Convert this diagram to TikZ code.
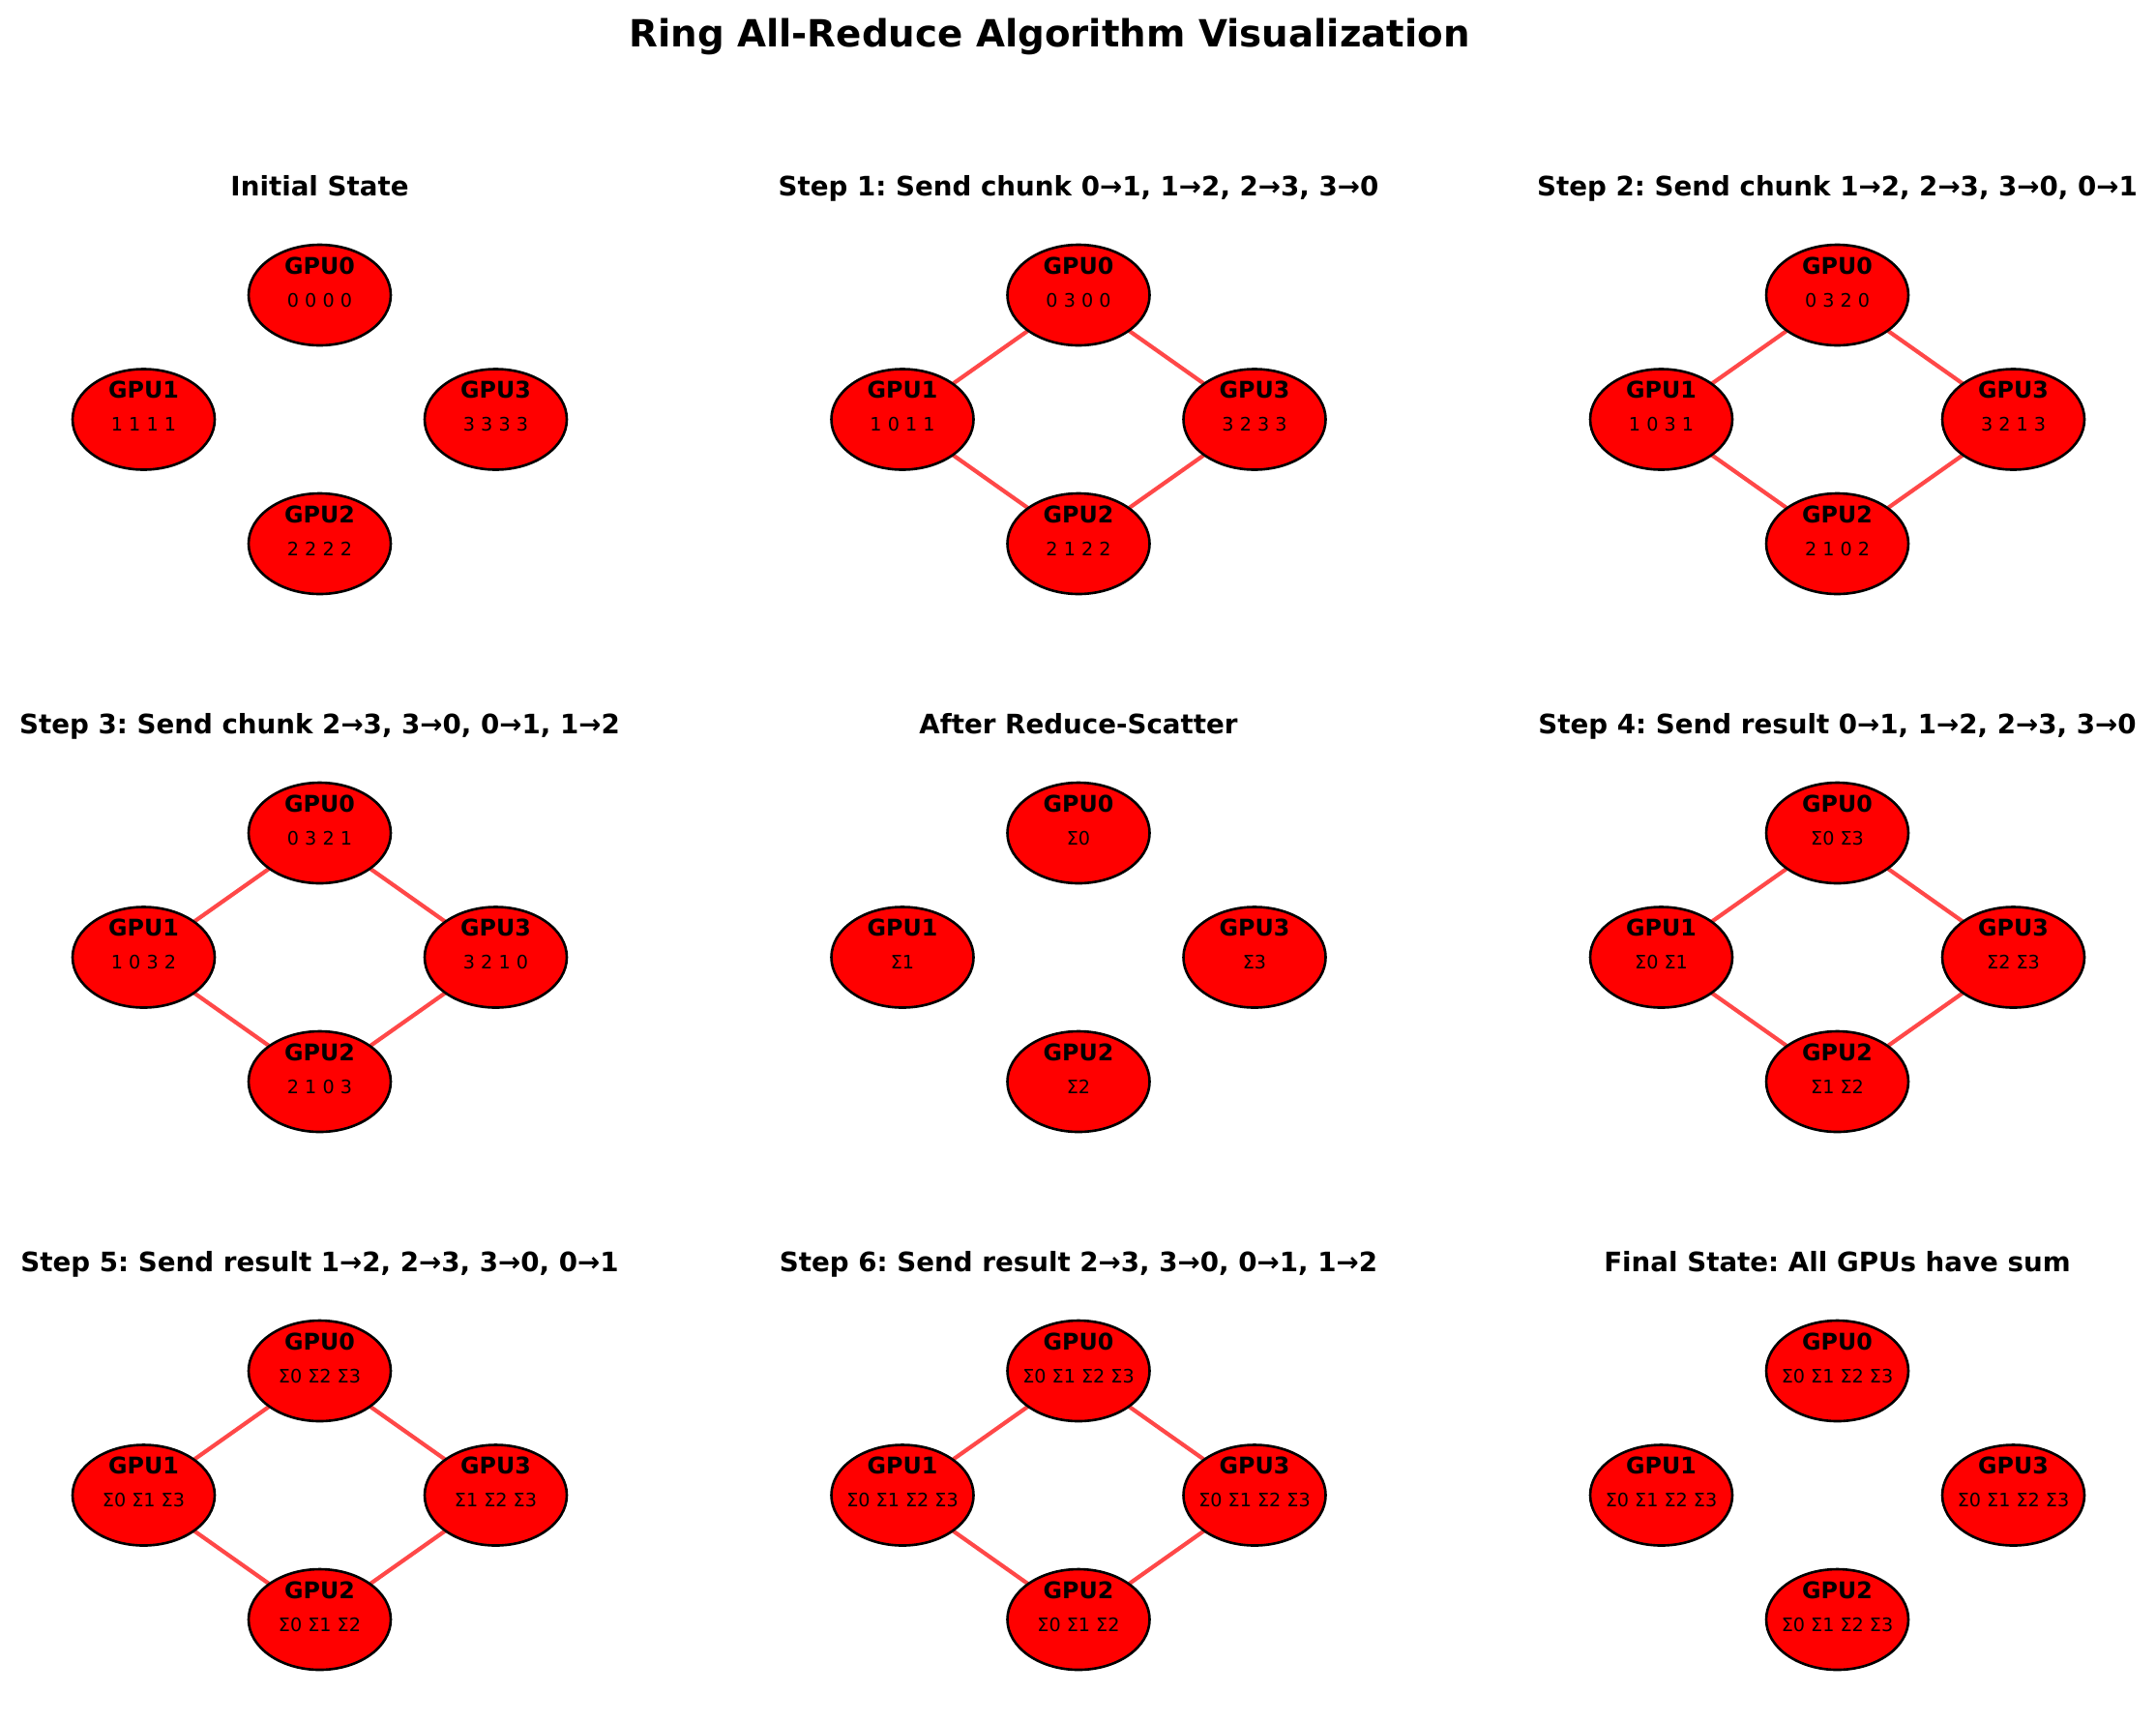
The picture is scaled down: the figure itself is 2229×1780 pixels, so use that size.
\documentclass[tikz,border=0pt]{standalone}
\usepackage{fontspec}
\setmainfont{DejaVu Sans}
\frenchspacing
\usetikzlibrary{shapes.geometric,backgrounds}
\definecolor{ringedgecol}{RGB}{255,72,72}
\definecolor{gpufill}{RGB}{255,0,0}
\tikzset{
  gpu/.style={ellipse, draw=black, line width=1.25pt, fill=gpufill,
    minimum width=70.56pt, minimum height=49.92pt, inner sep=0pt},
  gpuname/.style={anchor=base, inner sep=0pt, font=\fontsize{11.4}{13}\selectfont\bfseries},
  gpuval/.style={anchor=base, inner sep=0pt, font=\fontsize{9.2}{11}\selectfont},
  paneltitle/.style={anchor=base, inner sep=0pt, font=\fontsize{13.3}{16}\selectfont\bfseries},
  maintitle/.style={anchor=base, inner sep=0pt, font=\fontsize{18.6}{22}\selectfont\bfseries},
  ringline/.style={draw=ringedgecol, line width=2pt},
}
\newcommand\gpupanel[9]{%
  \node[paneltitle] (#3t) at (#1,#2-103) {#4};
  \node[gpu] (#3g0) at (#1,#2) {};
  \node[gpu] (#3g1) at (#1-182,#2+128.5) {};
  \node[gpu] (#3g3) at (#1+182,#2+128.5) {};
  \node[gpu] (#3g2) at (#1,#2+257) {};
  \node[gpuname] (#3n0) at ([yshift=10.5pt]#3g0.center) {GPU0};
  \node[gpuname] (#3n1) at ([yshift=10.5pt]#3g1.center) {GPU1};
  \node[gpuname] (#3n2) at ([yshift=10.5pt]#3g2.center) {GPU2};
  \node[gpuname] (#3n3) at ([yshift=10.5pt]#3g3.center) {GPU3};
  \node[gpuval] (#3v0) at ([yshift=-5.9pt]#3g0.center) {#5};
  \node[gpuval] (#3v1) at ([yshift=-5.9pt]#3g1.center) {#6};
  \node[gpuval] (#3v2) at ([yshift=-5.9pt]#3g2.center) {#7};
  \node[gpuval] (#3v3) at ([yshift=-5.9pt]#3g3.center) {#8};
  \ifnum#9=1
    \begin{scope}[on background layer]
      \draw[ringline] (#3g0.center) -- (#3g1.center);
      \draw[ringline] (#3g1.center) -- (#3g2.center);
      \draw[ringline] (#3g2.center) -- (#3g3.center);
      \draw[ringline] (#3g3.center) -- (#3g0.center);
    \end{scope}
  \fi
}
\begin{document}
\begin{tikzpicture}[x=0.48pt, y=-0.48pt]
  \begin{scope}[on background layer]
    \fill[white] (0,0) rectangle (2229,1780);
  \end{scope}
  \useasboundingbox (0,0) rectangle (2229,1780);
  \node[maintitle] (title) at (1085,48) {Ring All-Reduce Algorithm Visualization};
  % row 1
  \gpupanel{330.5}{305}{pa}{Initial State}{0 0 0 0}{1 1 1 1}{2 2 2 2}{3 3 3 3}{0}
  \gpupanel{1115}{305}{pb}{Step 1: Send chunk 0→1, 1→2, 2→3, 3→0}{0 3 0 0}{1 0 1 1}{2 1 2 2}{3 2 3 3}{1}
  \gpupanel{1899.5}{305}{pc}{Step 2: Send chunk 1→2, 2→3, 3→0, 0→1}{0 3 2 0}{1 0 3 1}{2 1 0 2}{3 2 1 3}{1}
  % row 2
  \gpupanel{330.5}{861}{pd}{Step 3: Send chunk 2→3, 3→0, 0→1, 1→2}{0 3 2 1}{1 0 3 2}{2 1 0 3}{3 2 1 0}{1}
  \gpupanel{1115}{861}{pe}{After Reduce-Scatter}{Σ0}{Σ1}{Σ2}{Σ3}{0}
  \gpupanel{1899.5}{861}{pf}{Step 4: Send result 0→1, 1→2, 2→3, 3→0}{Σ0 Σ3}{Σ0 Σ1}{Σ1 Σ2}{Σ2 Σ3}{1}
  % row 3
  \gpupanel{330.5}{1417}{pg}{Step 5: Send result 1→2, 2→3, 3→0, 0→1}{Σ0 Σ2 Σ3}{Σ0 Σ1 Σ3}{Σ0 Σ1 Σ2}{Σ1 Σ2 Σ3}{1}
  \gpupanel{1115}{1417}{ph}{Step 6: Send result 2→3, 3→0, 0→1, 1→2}{Σ0 Σ1 Σ2 Σ3}{Σ0 Σ1 Σ2 Σ3}{Σ0 Σ1 Σ2}{Σ0 Σ1 Σ2 Σ3}{1}
  \gpupanel{1899.5}{1417}{pi}{Final State: All GPUs have sum}{Σ0 Σ1 Σ2 Σ3}{Σ0 Σ1 Σ2 Σ3}{Σ0 Σ1 Σ2 Σ3}{Σ0 Σ1 Σ2 Σ3}{0}
\end{tikzpicture}
\end{document}
